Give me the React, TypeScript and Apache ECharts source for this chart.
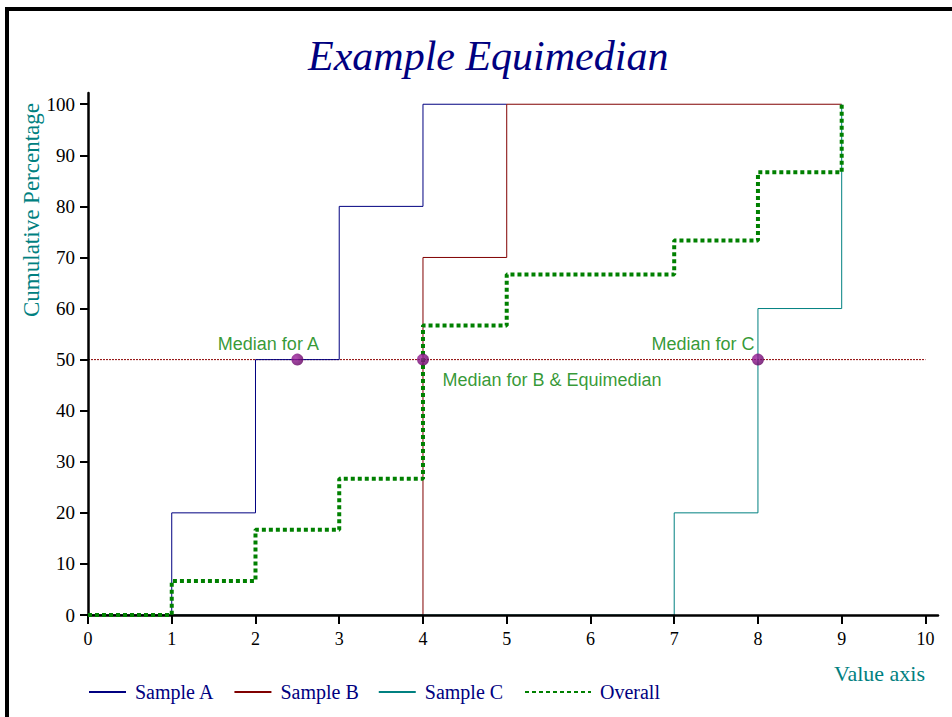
import React, { useEffect, useRef } from "react";
import * as echarts from "echarts";

const titleText = "Example Equimedian";
const xAxisName = "Value axis";
const yAxisName = "Cumulative Percentage";
const xTicks = [0, 1, 2, 3, 4, 5, 6, 7, 8, 9, 10];
const yTicks = [0, 10, 20, 30, 40, 50, 60, 70, 80, 90, 100];

const sampleA: number[][] = [[0, 0], [1, 20], [2, 50], [3, 80], [4, 100], [5, 100]];
const sampleB: number[][] = [[0, 0], [4, 70], [5, 100], [9, 100]];
const sampleC: number[][] = [[0, 0], [7, 20], [8, 60], [9, 100]];
const overall: number[][] = [
  [0, 0], [1, 6.67], [2, 16.67], [3, 26.67], [4, 56.67], [5, 66.67], [7, 73.33], [8, 86.67], [9, 100],
];
const medianLevel = 50;
const medianLine: number[][] = [[0, medianLevel], [10, medianLevel]];
const medianX = [2.5, 4, 8];
const medianLabels = ["Median for A", "Median for B & Equimedian", "Median for C"];

const SERIF = "'Liberation Serif', 'Times New Roman', serif";
const SANS = "'Liberation Sans', Arial, sans-serif";

export default function App() {
  const ref = useRef<HTMLDivElement>(null);
  useEffect(() => {
    if (!ref.current) return;
    const chart = echarts.init(ref.current, undefined, { renderer: "svg" });
    const labelOffsets = [[-29, -16], [129, 20], [-55, -16]];
    const hiddenSymbol = { color: "rgba(0,0,0,0)", borderColor: "rgba(0,0,0,0)", borderWidth: 0, opacity: 0 };
    const legendText = { fontFamily: SERIF, fontSize: 20, color: "#000080", padding: [0, 0, 0, 4] };
    const option: any = {
      animation: false,
      backgroundColor: "#fff",
      textStyle: { fontFamily: SERIF },
      title: {
        text: titleText,
        left: 303,
        top: 30,
        textStyle: { fontFamily: SERIF, fontStyle: "italic", fontWeight: "normal", fontSize: 42, color: "#000080" },
      },
      grid: { left: 88, right: 14, top: 93, bottom: 102, containLabel: false },
      legend: [
        {
          data: ["Sample A", "Sample B", "Sample C"],
          left: 88,
          top: 682,
          padding: 0,
          itemWidth: 37,
          itemHeight: 14,
          itemGap: 19,
          selectedMode: false,
          itemStyle: hiddenSymbol,
          textStyle: legendText,
        },
        {
          data: ["Overall"],
          left: 524,
          top: 682,
          padding: 0,
          itemWidth: 66,
          itemHeight: 14,
          selectedMode: false,
          itemStyle: hiddenSymbol,
          textStyle: legendText,
        },
      ],
      xAxis: {
        type: "value",
        min: 0,
        max: 10.15,
        z: 3,
        splitLine: { show: false },
        axisLine: { show: true, onZero: false, lineStyle: { color: "#000", width: 2.5 } },
        axisTick: { show: true, customValues: xTicks, length: 9, lineStyle: { color: "#000", width: 2 } },
        axisLabel: { customValues: xTicks, margin: 15, fontSize: 18, color: "#000", fontFamily: SERIF },
      },
      yAxis: {
        type: "value",
        min: 0,
        max: 102.2,
        z: 3,
        splitLine: { show: false },
        axisLine: { show: true, onZero: false, lineStyle: { color: "#000", width: 2.5 } },
        axisTick: { show: true, customValues: yTicks, length: 8, lineStyle: { color: "#000", width: 2 } },
        axisLabel: { customValues: yTicks, margin: 13, fontSize: 19, color: "#000", fontFamily: SERIF },
      },
      graphic: [
        {
          type: "rect",
          shape: { x: 7, y: 9, width: 980, height: 740 },
          style: { fill: "none", stroke: "#000", lineWidth: 4 },
          silent: true,
        },
        {
          type: "text",
          x: 31,
          y: 210,
          rotation: Math.PI / 2,
          style: {
            text: yAxisName,
            fill: "#008080",
            font: `23px ${SERIF}`,
            textAlign: "center",
            textVerticalAlign: "middle",
          },
        },
        {
          type: "text",
          x: 925,
          y: 673,
          style: {
            text: xAxisName,
            fill: "#008080",
            font: `22px ${SERIF}`,
            textAlign: "right",
            textVerticalAlign: "middle",
          },
        },
      ],
      series: [
        {
          name: "Median",
          type: "line",
          data: medianLine,
          symbol: "none",
          z: 2,
          silent: true,
          lineStyle: { color: "#8b0000", width: 1, type: [2, 1] },
        },
        {
          name: "Sample A",
          type: "line",
          step: "end",
          data: sampleA,
          symbol: "none",
          z: 2,
          color: "#000080",
          lineStyle: { color: "#000080", width: 1 },
        },
        {
          name: "Sample B",
          type: "line",
          step: "end",
          data: sampleB,
          symbol: "none",
          z: 2,
          color: "#800000",
          lineStyle: { color: "#800000", width: 1 },
        },
        {
          name: "Sample C",
          type: "line",
          step: "end",
          data: sampleC,
          symbol: "none",
          z: 2,
          color: "#008080",
          lineStyle: { color: "#008080", width: 1 },
        },
        {
          name: "Overall",
          type: "line",
          step: "end",
          data: overall,
          symbol: "none",
          z: 4,
          color: "#008000",
          lineStyle: { color: "#008000", width: 4, type: [4, 3], cap: "butt" },
        },
        {
          name: "Medians",
          type: "scatter",
          z: 5,
          symbol: "circle",
          symbolSize: 12,
          itemStyle: {
            color: new echarts.graphic.RadialGradient(0.35, 0.35, 0.7, [
              { offset: 0, color: "#a020a0" },
              { offset: 1, color: "#600060" },
            ]),
          },
          data: medianX.map((x, i) => ({
            value: [x, medianLevel],
            label: {
              show: true,
              formatter: medianLabels[i],
              position: "inside",
              offset: labelOffsets[i],
              color: "#008000",
              textBorderWidth: 0,
              fontFamily: SANS,
              fontSize: 18,
            },
          })),
        },
      ],
    };
    chart.setOption(option);
    return () => chart.dispose();
  }, []);
  return (
    <div
      ref={ref}
      style={{ position: "absolute", left: 0, top: 0, width: 952, height: 717, background: "#fff" }}
    />
  );
}
